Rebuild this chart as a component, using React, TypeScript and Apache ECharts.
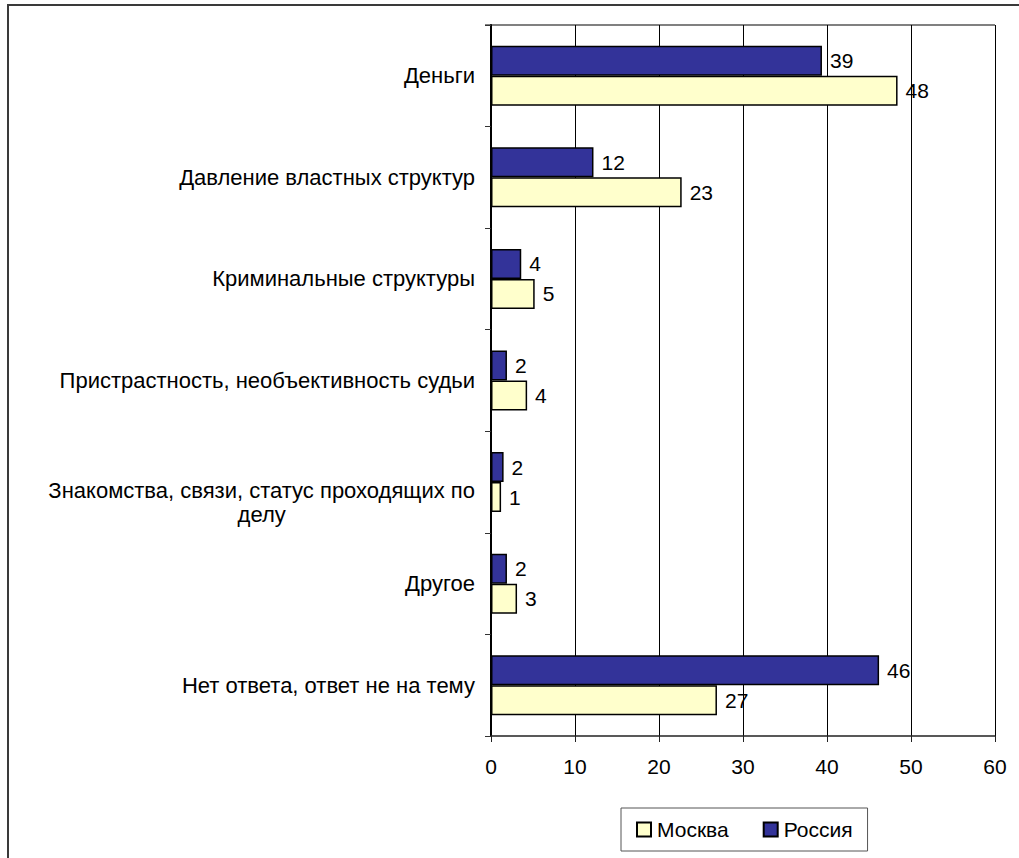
import React, { useEffect, useRef } from "react";
import * as echarts from "echarts";

const categories = [
  "Деньги",
  "Давление властных структур",
  "Криминальные структуры",
  "Пристрастность, необъективность судьи",
  "Знакомства, связи, статус проходящих по делу",
  "Другое",
  "Нет ответа, ответ не на тему",
];
const russia = [39.4, 12.2, 3.6, 1.9, 1.5, 1.9, 46.2];
const moscow = [48.4, 22.7, 5.2, 4.3, 1.2, 3.1, 26.9];
const xTicks = { min: 0, max: 60, interval: 10 };

const FONT = "'Liberation Sans', Arial, sans-serif";

export default function App() {
  const ref = useRef<HTMLDivElement>(null);
  useEffect(() => {
    if (!ref.current) return;
    const chart = echarts.init(ref.current, null, { renderer: "svg" });
    const labelStyle = {
      show: true,
      position: "right",
      distance: 8,
      color: "#000",
      fontSize: 21,
      fontFamily: FONT,
      formatter: (p: any) => String(Math.round(p.value)),
    };
    chart.setOption({
      animation: false,
      backgroundColor: "#fff",
      textStyle: { fontFamily: FONT },
      grid: { left: 491, top: 25, width: 504, height: 711, containLabel: false },
      legend: {
        data: ["Москва", "Россия"],
        left: 621,
        top: 808,
        orient: "horizontal",
        padding: [11, 15, 11, 15],
        itemGap: 34,
        itemWidth: 14,
        itemHeight: 14,
        icon: "rect",
        borderColor: "#555",
        borderWidth: 1,
        textStyle: { fontSize: 21, color: "#000", fontFamily: FONT, padding: [0, 0, 0, 1] },
      },
      xAxis: {
        type: "value",
        min: xTicks.min,
        max: xTicks.max,
        interval: xTicks.interval,
        axisLine: { show: true, lineStyle: { color: "#222", width: 1.5 } },
        axisTick: { show: true, length: 6, lineStyle: { color: "#222" } },
        splitLine: { show: true, lineStyle: { color: "#000", width: 1 } },
        axisLabel: { fontSize: 21, color: "#000", margin: 20, fontFamily: FONT },
      },
      yAxis: {
        type: "category",
        inverse: true,
        data: categories,
        axisLine: { show: true, lineStyle: { color: "#000", width: 2 } },
        axisTick: { show: true, length: 6, lineStyle: { color: "#333" } },
        axisLabel: {
          fontSize: 22,
          color: "#000",
          margin: 16,
          fontFamily: FONT,
          formatter: (v: string) => {
            if (v.startsWith("Знакомства")) {
              return "{p|Знакомства, связи, статус проходящих по}\n{p|делу}";
            }
            return v;
          },
          rich: {
            p: {
              fontSize: 22,
              fontFamily: FONT,
              color: "#000",
              align: "center",
              lineHeight: 24,
              padding: [41, 0, 0, 0],
            },
          },
        },
      },
      series: [
        {
          name: "Россия",
          type: "bar",
          data: russia,
          barWidth: 30,
          barGap: "0%",
          itemStyle: { color: "#333399", borderColor: "#000", borderWidth: 1.5 },
          label: labelStyle,
        },
        {
          name: "Москва",
          type: "bar",
          data: moscow,
          barWidth: 30,
          barGap: "0%",
          itemStyle: { color: "#FFFFCC", borderColor: "#000", borderWidth: 1.5 },
          label: labelStyle,
        },
      ],
      graphic: [
        {
          type: "rect",
          shape: { x: 8, y: 5, width: 1040, height: 900 },
          style: { fill: "none", stroke: "#3a3a3a", lineWidth: 2 },
          silent: true,
        },
        {
          type: "line",
          shape: { x1: 485, y1: 25, x2: 995, y2: 25 },
          style: { stroke: "#808080", lineWidth: 2 },
          silent: true,
        },
      ],
    });
    return () => chart.dispose();
  }, []);
  return (
    <div
      ref={ref}
      style={{ position: "absolute", left: 0, top: 0, width: 1019, height: 858 }}
    />
  );
}
